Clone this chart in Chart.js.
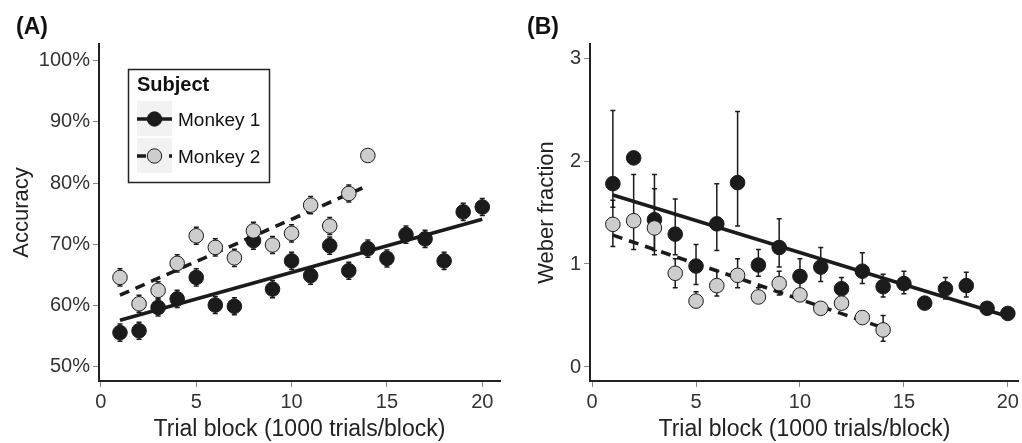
<!DOCTYPE html>
<html><head><meta charset="utf-8">
<script src="https://cdn.jsdelivr.net/npm/chart.js@4.4.1/dist/chart.umd.min.js"></script>
<style>
html,body{margin:0;padding:0;background:#fff;}
#wrap{position:relative;width:1022px;height:443px;overflow:hidden;}
.c{position:absolute;top:0;width:511px;height:443px;}
</style></head><body>
<div id="wrap">
<div class="c" style="left:0"><canvas id="cA" width="511" height="443"></canvas></div>
<div class="c" style="left:511px"><canvas id="cB" width="511" height="443"></canvas></div>
</div>
<script>
// ---- data ----
const seriesNames = ['Monkey 1', 'Monkey 2'];
const blocksM1 = [1,2,3,4,5,6,7,8,9,10,11,12,13,14,15,16,17,18,19,20];
const blocksM2 = [1,2,3,4,5,6,7,8,9,10,11,12,13,14];
const xTicks = [0,5,10,15,20];

// Panel A: accuracy (%)
const accM1 = [55.6,55.9,59.7,61.1,64.6,60.1,59.9,70.6,62.7,67.3,64.9,69.8,65.7,69.3,67.7,71.6,70.9,67.3,75.3,76.1];
const accErrM1 = [1.4,1.4,1.4,1.4,1.4,1.4,1.4,1.4,1.4,1.4,1.4,1.4,1.4,1.4,1.4,1.4,1.4,1.4,1.4,1.4];
const accM2 = [64.6,60.3,62.5,66.9,71.4,69.5,67.8,72.2,69.9,71.8,76.4,73.0,78.3,84.5];
const accErrM2 = [1.4,1.4,1.4,1.4,1.4,1.4,1.4,1.4,1.4,1.4,1.4,1.4,1.4,0.9];
const accFitM1X = [1,20], accFitM1Y = [57.6,74.1];
const accFitM2X = [1,14], accFitM2Y = [61.7,79.6];
const accTicks = [50,60,70,80,90,100];

// Panel B: Weber fraction
const wbM1   = [1.78,2.03,1.43,1.29,0.98,1.39,1.79,0.99,1.16,0.88,0.97,0.76,0.93,0.78,0.81,0.62,0.76,0.79,0.57,0.52];
const wbLoM1 = [1.55,1.98,1.13,1.09,0.80,1.13,1.37,0.88,0.97,0.72,0.83,0.66,0.81,0.68,0.71,0.58,0.66,0.68,0.53,0.48];
const wbHiM1 = [2.49,2.08,1.87,1.63,1.19,1.78,2.48,1.14,1.44,1.05,1.16,0.87,1.11,0.90,0.93,0.66,0.87,0.92,0.61,0.56];
const wbM2   = [1.385,1.42,1.35,0.91,0.64,0.79,0.89,0.68,0.81,0.70,0.57,0.62,0.48,0.36];
const wbLoM2 = [1.17,1.14,1.09,0.77,0.60,0.69,0.77,0.64,0.70,0.64,0.53,0.56,0.44,0.25];
const wbHiM2 = [1.62,1.87,1.73,1.05,0.73,0.93,1.05,0.77,0.93,0.76,0.61,0.68,0.52,0.50];
const wbFitM1X = [1,20], wbFitM1Y = [1.67,0.49];
const wbFitM2X = [1,14], wbFitM2Y = [1.28,0.38];
const wbTicks = [0,1,2,3];

// ---- styling ----
const FONT = '"Liberation Sans", Arial, Helvetica, sans-serif';
const BLACK = '#1b1b1b', GREY = '#cdcdcd', EDGE = '#1b1b1b';

const pts = (xs, ys) => xs.map((x,i)=>({x, y: ys[i]}));

const errorBarPlugin = {
  id: 'errorBars',
  beforeDatasetsDraw(chart) {
    const {ctx, scales:{x, y}} = chart;
    ctx.save();
    ctx.strokeStyle = '#1b1b1b';
    ctx.lineWidth = 1.5;
    chart.data.datasets.forEach(ds => {
      if (!ds.errLo) return;
      ds.data.forEach((p,i) => {
        const px = x.getPixelForValue(p.x);
        const y1 = y.getPixelForValue(ds.errLo[i]);
        const y2 = y.getPixelForValue(ds.errHi[i]);
        ctx.beginPath();
        ctx.moveTo(px, y1); ctx.lineTo(px, y2);
        ctx.moveTo(px-2.5, y1); ctx.lineTo(px+2.5, y1);
        ctx.moveTo(px-2.5, y2); ctx.lineTo(px+2.5, y2);
        ctx.stroke();
      });
    });
    ctx.restore();
  }
};

const panelLabelPlugin = {
  id: 'panelLabel',
  afterDraw(chart, args, opts) {
    const ctx = chart.ctx;
    ctx.save();
    ctx.fillStyle = '#111';
    ctx.font = 'bold 23px ' + FONT;
    ctx.textBaseline = 'alphabetic';
    ctx.fillText(opts.text, opts.x, opts.y);
    ctx.restore();
  }
};

const keyLegendPlugin = {
  id: 'keyLegend',
  afterDraw(chart, args, opts) {
    if (!opts.show) return;
    const ctx = chart.ctx;
    ctx.save();
    ctx.fillStyle = '#fff';
    ctx.fillRect(128, 69, 141, 113);
    ctx.strokeStyle = '#222'; ctx.lineWidth = 1.5;
    ctx.strokeRect(128.5, 69.5, 141, 113);
    ctx.fillStyle = '#111';
    ctx.font = 'bold 20px ' + FONT;
    ctx.fillText('Subject', 137, 91);
    ctx.fillStyle = '#f2f2f2';
    ctx.fillRect(137, 101, 35, 35);
    ctx.fillRect(137, 138, 35, 35);
    ctx.strokeStyle = BLACK; ctx.lineWidth = 3.5;
    ctx.beginPath(); ctx.moveTo(137, 119); ctx.lineTo(172, 119); ctx.stroke();
    ctx.beginPath(); ctx.arc(154.5, 119, 7.2, 0, Math.PI*2);
    ctx.fillStyle = BLACK; ctx.fill(); ctx.lineWidth = 1; ctx.strokeStyle = EDGE; ctx.stroke();
    ctx.strokeStyle = BLACK; ctx.lineWidth = 3.5;
    ctx.setLineDash([9, 7]); ctx.lineDashOffset = 0;
    ctx.beginPath(); ctx.moveTo(137, 156); ctx.lineTo(172, 156); ctx.stroke();
    ctx.setLineDash([]);
    ctx.beginPath(); ctx.arc(154.5, 156, 7.2, 0, Math.PI*2);
    ctx.fillStyle = GREY; ctx.fill(); ctx.lineWidth = 1; ctx.strokeStyle = EDGE; ctx.stroke();
    ctx.fillStyle = '#111';
    ctx.font = '19px ' + FONT;
    ctx.fillText(seriesNames[0], 178, 126);
    ctx.fillText(seriesNames[1], 178, 163);
    ctx.restore();
  }
};

function makeChart(id, cfg) {
  const datasets = [
    { type:'line', label: seriesNames[0]+' fit', data: pts(cfg.fit1X, cfg.fit1Y), showLine:true,
      borderColor: BLACK, borderWidth: 3.6, pointRadius: 0, order: 5 },
    { type:'line', label: seriesNames[1]+' fit', data: pts(cfg.fit2X, cfg.fit2Y), showLine:true,
      borderColor: BLACK, borderWidth: 3.6, borderDash:[10,7], pointRadius: 0, order: 4 },
    { label: seriesNames[0], data: pts(blocksM1, cfg.y1), errLo: cfg.lo1, errHi: cfg.hi1,
      pointRadius: 7.3, pointBackgroundColor: BLACK, pointBorderColor: EDGE, pointBorderWidth: 1,
      showLine:false, order: 2 },
    { label: seriesNames[1], data: pts(blocksM2, cfg.y2), errLo: cfg.lo2, errHi: cfg.hi2,
      pointRadius: 7.3, pointBackgroundColor: GREY, pointBorderColor: EDGE, pointBorderWidth: 1,
      showLine:false, order: 1 },
  ];
  return new Chart(document.getElementById(id), {
    type: 'scatter',
    data: { datasets },
    plugins: [errorBarPlugin, panelLabelPlugin, keyLegendPlugin],
    options: {
      responsive: false, animation: false, devicePixelRatio: 1,
      layout: { autoPadding: false, padding: { left: 0, right: cfg.padRight, top: 44, bottom: 0 } },
      plugins: {
        legend: { display: false }, tooltip: { enabled: false },
        panelLabel: { text: cfg.label, x: 16, y: 34 },
        keyLegend: { show: cfg.legend }
      },
      scales: {
        x: {
          type: 'linear', min: -0.1, max: cfg.xMax,
          afterBuildTicks: s => { s.ticks = xTicks.map(v => ({value: v})); },
          afterFit: s => { s.height = 62; },
          ticks: { font: { family: FONT, size: 20 }, color: '#333', padding: 3, maxRotation: 0 },
          grid: { drawOnChartArea: false, drawTicks: true, tickLength: 6, color: '#888', lineWidth: 1 },
          border: { display: true, color: '#222', width: 2 },
          title: { display: true, text: 'Trial block (1000 trials/block)', color: '#222',
                   font: { family: FONT, size: 23 }, padding: { top: 0, bottom: 0 } }
        },
        y: {
          type: 'linear', min: cfg.yMin, max: cfg.yMax,
          afterBuildTicks: s => { s.ticks = cfg.yTicks.map(v => ({value: v})); },
          afterFit: s => { s.width = cfg.yWidth; },
          ticks: { font: { family: FONT, size: 20 }, color: '#333', padding: 3,
                   callback: cfg.fmt },
          grid: { drawOnChartArea: false, drawTicks: true, tickLength: 6, color: '#888', lineWidth: 1 },
          border: { display: true, color: '#222', width: 2 },
          title: { display: true, text: cfg.yTitle, color: '#222',
                   font: { family: FONT, size: 22 }, padding: { top: cfg.yTitlePad, bottom: 0 } }
        }
      }
    }
  });
}

makeChart('cA', {
  label: '(A)', legend: true, padRight: 11, xMax: 20.93,
  yMin: 47.7, yMax: 102.7, yTicks: accTicks, yWidth: 99, yTitle: 'Accuracy', yTitlePad: 9,
  fmt: v => v + '%',
  y1: accM1, lo1: accM1.map((v,i)=>v-accErrM1[i]), hi1: accM1.map((v,i)=>v+accErrM1[i]),
  y2: accM2, lo2: accM2.map((v,i)=>v-accErrM2[i]), hi2: accM2.map((v,i)=>v+accErrM2[i]),
  fit1X: accFitM1X, fit1Y: accFitM1Y, fit2X: accFitM2X, fit2Y: accFitM2Y
});

makeChart('cB', {
  label: '(B)', legend: false, padRight: 1, xMax: 20.53,
  yMin: -0.136, yMax: 3.136, yTicks: wbTicks, yWidth: 79, yTitle: 'Weber fraction', yTitlePad: 23,
  fmt: v => String(v),
  y1: wbM1, lo1: wbLoM1, hi1: wbHiM1,
  y2: wbM2, lo2: wbLoM2, hi2: wbHiM2,
  fit1X: wbFitM1X, fit1Y: wbFitM1Y, fit2X: wbFitM2X, fit2Y: wbFitM2Y
});
</script>
</body></html>
